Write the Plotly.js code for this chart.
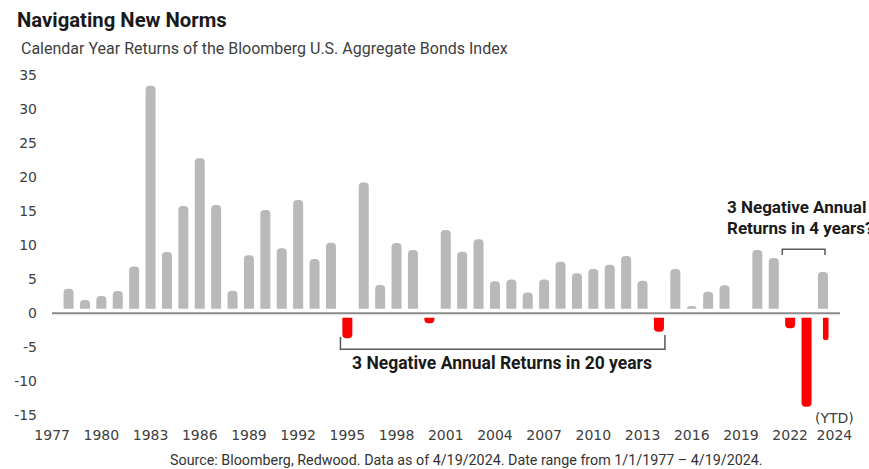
<!DOCTYPE html>
<html>
<head>
<meta charset="utf-8">
<script src="https://cdn.plot.ly/plotly-3.0.1.min.js"></script>
<style>
  html, body { margin: 0; padding: 0; background: #fff; }
  #chart { width: 869px; height: 469px; }
</style>
</head>
<body>
<div id="chart"></div>
<script>
// ---- Data ----
const years = [1977, 1978, 1979, 1980, 1981, 1982, 1983, 1984, 1985, 1986,
               1987, 1988, 1989, 1990, 1991, 1992, 1993, 1994, 1995, 1996,
               1997, 1998, 1999, 2000, 2001, 2002, 2003, 2004, 2005, 2006,
               2007, 2008, 2009, 2010, 2011, 2012, 2013, 2014, 2015, 2016,
               2017, 2018, 2019, 2020, 2021, 2022, 2023, 2024];
const returns = [3.61, 1.95, 2.54, 3.28, 6.85, 33.4, 9.0, 15.77, 22.77, 15.91,
                 3.32, 8.52, 15.18, 9.55, 16.65, 7.98, 10.37, -3.67, 19.19, 4.16,
                 10.33, 9.3, -1.47, 12.24, 9.05, 10.87, 4.7, 4.94, 3.03, 4.94,
                 7.58, 5.88, 6.51, 7.14, 8.42, 4.79, -2.7, 6.51, 1.07, 3.17,
                 4.11, 0.2, 9.3, 8.12, -2.2, -13.72, 6.07, -3.92];
const tickLabels = ['1977', '1980', '1983', '1986', '1989', '1992', '1995', '1998',
                    '2001', '2004', '2007', '2010', '2013', '2016', '2019', '2022', '2024'];
const yTicks = [-15, -10, -5, 0, 5, 10, 15, 20, 25, 30, 35];

// ---- Layout geometry (pixels) ----
const W = 869, H = 469;
const L = 52.4, R = 840, T = 70, B = 420;
const px = x => (x - L) / (R - L);
const py = y => (B - y) / (B - T);

const positive = returns.map(v => (v >= 0 ? v : null));
const negative = returns.map(v => (v < 0 ? v : null));
const ytdYear = years[years.length - 1];

// In the reference the tick labels sit one slot left of the bars; last one is squeezed in.
const tickVals = tickLabels.map((t, i) => (i < tickLabels.length - 1 ? years[0] - 1 + 3 * i : ytdYear - 0.3));

const BW = 0.61;
const traces = [
  {
    type: 'bar', x: years, y: positive,
    width: BW,
    marker: { color: '#b9b9b9', cornerradius: 4 },
    hoverinfo: 'x+y', showlegend: false
  },
  {
    type: 'bar', x: years, y: negative,
    width: years.map(y => (y === ytdYear ? 0.34 : BW)),
    offset: years.map(y => (y === ytdYear ? -1.0 : -BW / 2)),
    marker: { color: '#ff0000', cornerradius: 4 },
    hoverinfo: 'x+y', showlegend: false
  }
];

const narrow = 'Roboto, "Liberation Sans", sans-serif';
const tickFont = { family: '"DejaVu Sans", sans-serif', size: 14, color: '#404040' };

const ann = (text, x, y, opts) => Object.assign({
  text: text, xref: 'paper', yref: 'paper', x: px(x), y: py(y),
  xanchor: 'center', yanchor: 'middle', showarrow: false
}, opts || {});

const layout = {
  width: W, height: H,
  margin: { l: L, r: W - R, t: T, b: H - B, pad: 0 },
  paper_bgcolor: '#ffffff', plot_bgcolor: '#ffffff',
  barmode: 'overlay',
  xaxis: {
    range: [1975.99, 2024.04],
    tickmode: 'array', tickvals: tickVals, ticktext: tickLabels,
    ticks: '', showgrid: false, zeroline: false, showline: false,
    tickfont: tickFont, ticklabelstandoff: 5, fixedrange: true
  },
  yaxis: {
    range: [-15.68, 35.73],
    tickmode: 'array', tickvals: yTicks, ticktext: yTicks.map(String),
    ticks: '', showgrid: false, zeroline: false, showline: false,
    tickfont: tickFont, ticklabelstandoff: 14, fixedrange: true
  },
  shapes: [
    { type: 'line', xref: 'paper', yref: 'y', x0: 0, x1: 1, y0: 0, y1: 0,
      line: { color: '#ffffff', width: 9 }, layer: 'above' },
    { type: 'line', xref: 'paper', yref: 'y', x0: 0, x1: 1, y0: 0, y1: 0,
      line: { color: '#8c8c8c', width: 2 }, layer: 'above' },
    { type: 'path', xref: 'paper', yref: 'paper',
      path: `M ${px(340.7)},${py(336.7)} L ${px(340.7)},${py(349.3)} L ${px(665)},${py(349.3)} L ${px(665)},${py(335)}`,
      line: { color: '#595959', width: 1.5 } },
    { type: 'path', xref: 'paper', yref: 'paper',
      path: `M ${px(782.3)},${py(255)} L ${px(782.3)},${py(249.3)} L ${px(825)},${py(249.3)} L ${px(825)},${py(255)}`,
      line: { color: '#595959', width: 1.5 } }
  ],
  annotations: [
    ann('<b>Navigating New Norms</b>', 15, 20, { xanchor: 'left', font: { family: narrow, size: 20.3, color: '#1a1a1a' } }),
    ann('Calendar Year Returns of the Bloomberg U.S. Aggregate Bonds Index', 19, 49, { xanchor: 'left', font: { family: narrow, size: 16, color: '#404040' } }),
    ann('<b>3 Negative Annual Returns in 20 years</b>', 502.5, 363.3, { font: { family: narrow, size: 17.5, color: '#1a1a1a' } }),
    ann('<b>3 Negative Annual</b>', 725, 206.7, { xanchor: 'left', font: { family: narrow, size: 17, color: '#1a1a1a' } }),
    ann('<b>Returns in 4 years?</b>', 725, 228.3, { xanchor: 'left', font: { family: narrow, size: 17, color: '#1a1a1a' } }),
    ann('(YTD)', 834.5, 418, { font: tickFont }),
    ann('Source: Bloomberg, Redwood. Data as of 4/19/2024. Date range from 1/1/1977 \u2013 4/19/2024.', 467, 460, { font: { family: narrow, size: 14.3, color: '#333333' } })
  ]
};

Plotly.newPlot('chart', traces, layout, { displayModeBar: false, staticPlot: true });
</script>
</body>
</html>
